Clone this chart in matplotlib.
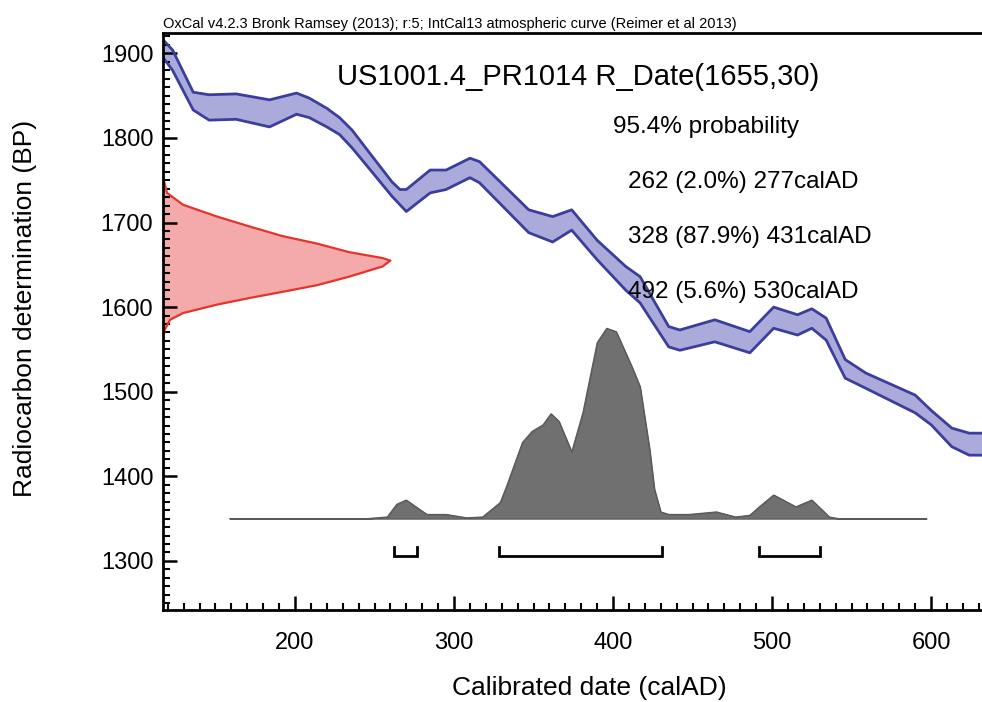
import matplotlib
matplotlib.use("Agg")
import matplotlib.pyplot as plt
from matplotlib.ticker import MultipleLocator
import numpy as np

plt.rcParams['font.family'] = ['Liberation Sans', 'DejaVu Sans']

# calibration curve (IntCal13), upper / lower edge of the band in BP
curve_year = [117, 123, 136, 146, 163, 184, 201, 209, 220, 228, 236, 247, 261, 266, 270,
              285, 295, 310, 316, 347, 362, 374, 390, 408, 417, 435, 442, 464, 486, 501,
              516, 525, 534, 546, 559, 590, 600, 613, 624, 632]
curve_hi = [1916, 1904, 1854, 1851, 1852, 1845, 1853, 1847, 1835, 1824, 1809, 1782, 1748, 1739, 1739,
            1762, 1762, 1776, 1772, 1715, 1707, 1715, 1679, 1648, 1636, 1577, 1573, 1585, 1571, 1600,
            1591, 1598, 1587, 1538, 1522, 1496, 1478, 1457, 1451, 1451]
curve_lo = [1895, 1880, 1833, 1821, 1822, 1813, 1828, 1824, 1813, 1804, 1788, 1763, 1731, 1721, 1713,
            1735, 1739, 1753, 1747, 1688, 1677, 1691, 1656, 1620, 1605, 1553, 1549, 1559, 1546, 1575,
            1567, 1575, 1561, 1516, 1504, 1475, 1461, 1435, 1425, 1425]

# radiocarbon date R_Date(1655,30), profile on the y axis (width in years)
rdate_bp = [1755, 1750, 1735, 1721, 1707, 1695, 1684, 1675, 1665, 1658, 1655, 1648, 1636, 1626,
            1618, 1611, 1603, 1593, 1585, 1573, 1560]
rdate_w = [0, 0.5, 2.5, 12.6, 34, 55, 75, 97, 117, 138, 143, 138, 117, 97,
           75, 55, 34, 12.6, 4.4, 1, 0]

# calibrated probability distribution (height in BP units above baseline)
prob_year = [159, 245, 258, 264, 270, 276, 283, 295, 308, 318, 329, 333, 343, 349, 356, 361, 366,
             374, 381, 390, 396, 402, 412, 417, 423, 426, 430, 435, 448, 465, 477, 486, 492, 501,
             515, 525, 536, 542, 597]
prob_h = [0, 0, 2, 17, 22, 14, 5, 5, 1, 2, 19, 38, 90, 103, 111, 124, 115,
          79, 125, 208, 225, 221, 179, 156, 82, 35, 8, 5, 5, 8, 2, 4, 14, 28,
          14, 22, 2, 0, 0]
prob_base = 1350

# 95.4% ranges
ranges = [(262, 277), (328, 431), (492, 530)]
range_lines = ['262 (2.0%) 277calAD', '328 (87.9%) 431calAD', '492 (5.6%) 530calAD']

xmin, xmax = 117, 632
ymin, ymax = 1242, 1924

fig = plt.figure(figsize=(9.82, 7.02), dpi=100)
ax = fig.add_axes([163 / 982, 1 - 610 / 702, 819 / 982, 577 / 702])

ax.fill_between(curve_year, curve_lo, curve_hi, color='#aaaadb', lw=0)
ax.plot(curve_year, curve_hi, color='#3b3e9c', lw=2)
ax.plot(curve_year, curve_lo, color='#3b3e9c', lw=2)

rw = np.array(rdate_w)
ax.fill_betweenx(rdate_bp, xmin, xmin + rw, color='#f4a9ab', lw=0)
ax.plot(xmin + rw, rdate_bp, color='#e5352a', lw=1.6)

ph = np.array(prob_h)
ax.fill_between(prob_year, prob_base, prob_base + ph, facecolor='#707070',
                edgecolor='#5a5a5a', lw=0.8)
ax.plot(prob_year, prob_base + ph, color='#5a5a5a', lw=0.8)

for a, b in ranges:
    ax.plot([a, a, b, b], [1316, 1306, 1306, 1316], color='black', lw=2,
            solid_joinstyle='miter')

ax.set_xlim(xmin, xmax)
ax.set_ylim(ymin, ymax)
ax.xaxis.set_major_locator(MultipleLocator(100))
ax.xaxis.set_minor_locator(MultipleLocator(10))
ax.yaxis.set_major_locator(MultipleLocator(100))
ax.yaxis.set_minor_locator(MultipleLocator(10))
ax.tick_params(which='both', direction='in', top=False, right=False, labelsize=17)
ax.tick_params(which='major', length=10, width=1.8)
ax.tick_params(which='minor', length=5, width=1.5)
ax.tick_params(axis='x', pad=16)
ax.tick_params(axis='y', pad=7)
for s in ['left', 'bottom', 'top']:
    ax.spines[s].set_linewidth(2)
ax.spines['right'].set_visible(False)

ax.set_xlabel('Calibrated date (calAD)', fontsize=19)
ax.set_ylabel('Radiocarbon determination (BP)', fontsize=19)
ax.xaxis.set_label_coords(0.521, -0.115)
ax.yaxis.set_label_coords(-0.154, 0.522)

fig.text(163 / 982, 1 - 24 / 702, 'OxCal v4.2.3 Bronk Ramsey (2013); r:5; IntCal13 atmospheric curve (Reimer et al 2013)',
         fontsize=10.5, va='center', ha='left')

ax.text(0.507, 0.924, 'US1001.4_PR1014 R_Date(1655,30)', transform=ax.transAxes,
        fontsize=21, ha='center', va='center')
ax.text(0.663, 0.837, '95.4% probability', transform=ax.transAxes,
        fontsize=17.5, ha='center', va='center')
for i, t in enumerate(range_lines):
    ax.text(0.568, 0.742 - i * 0.0955, t, transform=ax.transAxes,
            fontsize=17.5, ha='left', va='center')

fig.savefig('out.png', dpi=100)
